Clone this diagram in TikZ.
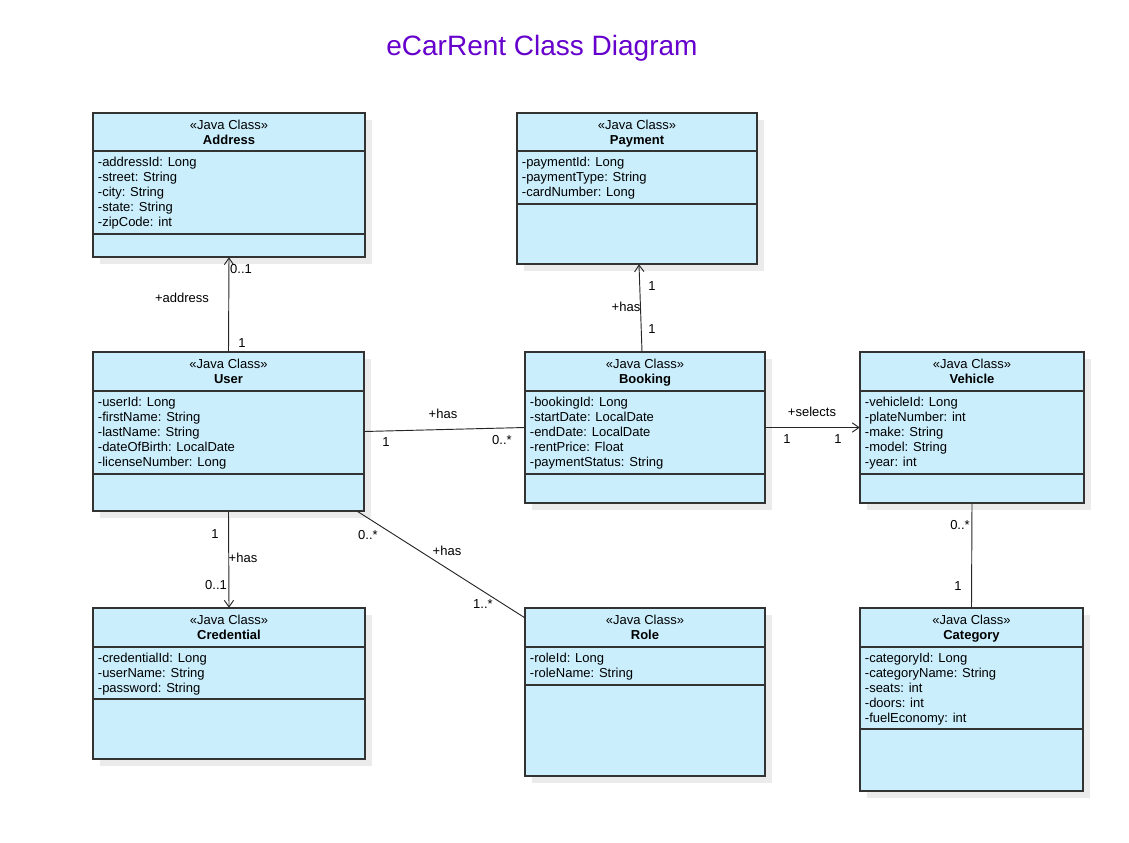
\documentclass[tikz,border=0pt]{standalone}
\usepackage{fontspec}
\setmainfont{Liberation Sans}
\usetikzlibrary{arrows.meta,fit}
\definecolor{classfill}{RGB}{202,238,252}
\definecolor{classline}{RGB}{51,51,51}
\definecolor{titlepurple}{RGB}{102,0,204}
\tikzset{
  classrect/.style={draw=classline,line width=0.9pt,fill=classfill},
  classshadow/.style={fill=black!8},
  classhead/.style={anchor=north,align=center,inner ysep=5.25pt},
  classattr/.style={anchor=north west,align=left,inner xsep=3.5pt,inner ysep=4.25pt},
  assoc/.style={draw=black!85,line width=0.7pt},
  mult/.style={inner sep=1pt}
}
% name, x1, y1, x2, y2, divider 1, divider 2, class name, attributes
\newcommand{\umlclass}[9]{%
  \fill[classshadow] (#2+7,#3+7) rectangle (#4+7,#5+7);
  \draw[classrect] (#2,#3) rectangle (#4,#5);
  \draw[classline,line width=0.9pt] (#2,#6) -- (#4,#6);
  \draw[classline,line width=0.9pt] (#2,#7) -- (#4,#7);
  \node[fit={(#2,#3) (#4,#5)},inner sep=0pt] (#1) {};
  \node[classhead] (#1-head) at ({(#2+#4)/2},#3) {«Java Class»\\\textbf{#8}};
  \node[classattr] (#1-attr) at (#2,#6) {#9};
}
\begin{document}
\begin{tikzpicture}[x=0.75pt,y=-0.75pt,>={Straight Barb[length=5pt,width=7pt]},
  font=\fontsize{9.75}{11.25}\selectfont]
\useasboundingbox (0,0) rectangle (1129,843);
\node[text=titlepurple,font=\fontsize{21}{25}\selectfont] (title) at (542,48) {eCarRent Class Diagram};

\umlclass{address}{93}{113}{365}{257}{151}{234}{Address}
  {-addressId: Long\\-street: String\\-city: String\\-state: String\\-zipCode: int}
\umlclass{payment}{517}{113}{757}{264}{151}{204}{Payment}
  {-paymentId: Long\\-paymentType: String\\-cardNumber: Long}
\umlclass{user}{93}{352}{364}{511}{391}{474}{User}
  {-userId: Long\\-firstName: String\\-lastName: String\\-dateOfBirth: LocalDate\\-licenseNumber: Long}
\umlclass{booking}{525}{352}{765}{503}{391}{474}{Booking}
  {-bookingId: Long\\-startDate: LocalDate\\-endDate: LocalDate\\-rentPrice: Float\\-paymentStatus: String}
\umlclass{vehicle}{860}{352}{1084}{503}{391}{474}{Vehicle}
  {-vehicleId: Long\\-plateNumber: int\\-make: String\\-model: String\\-year: int}
\umlclass{credential}{93}{608}{365}{759}{647}{699}{Credential}
  {-credentialId: Long\\-userName: String\\-password: String}
\umlclass{role}{525}{608}{765}{776}{647}{685}{Role}
  {-roleId: Long\\-roleName: String}
\umlclass{category}{860}{608}{1083}{791}{647}{729}{Category}
  {-categoryId: Long\\-categoryName: String\\-seats: int\\-doors: int\\-fuelEconomy: int}

\draw[assoc,->] (user.north) -- (address.south);
\node[mult] (ua1) at (241,269) {0..1};
\node[mult] (ua2) at (242,343) {1};
\node[mult] (ua3) at (182,298) {+address};

\draw[assoc,->] ([xshift=-2.25pt]booking.north) -- ([xshift=1.5pt]payment.south);
\node[mult] (bp1) at (652,286) {1};
\node[mult] (bp2) at (652,329) {1};
\node[mult] (bp3) at (626,307) {+has};

\draw[assoc] (user.east) -- (booking.west);
\node[mult] (ub1) at (443,414) {+has};
\node[mult] (ub2) at (386,442) {1};
\node[mult] (ub3) at (502,440) {0..*};

\draw[assoc,->] (booking.east) -- (vehicle.west);
\node[mult] (bv1) at (812,412) {+selects};
\node[mult] (bv2) at (787,439) {1};
\node[mult] (bv3) at (838,439) {1};

\draw[assoc,->] (user.south) -- (credential.north);
\node[mult] (uc1) at (215,534) {1};
\node[mult] (uc2) at (243,558) {+has};
\node[mult] (uc3) at (216,585) {0..1};

\draw[assoc] ([xshift=-5.25pt]user.south east) -- ([yshift=-7.5pt]role.north west);
\node[mult] (ur1) at (368,535) {0..*};
\node[mult] (ur2) at (447,551) {+has};
\node[mult] (ur3) at (483,604) {1..*};

\draw[assoc] (vehicle.south) -- (category.north);
\node[mult] (vc1) at (960,525) {0..*};
\node[mult] (vc2) at (958,586) {1};
\end{tikzpicture}
\end{document}
